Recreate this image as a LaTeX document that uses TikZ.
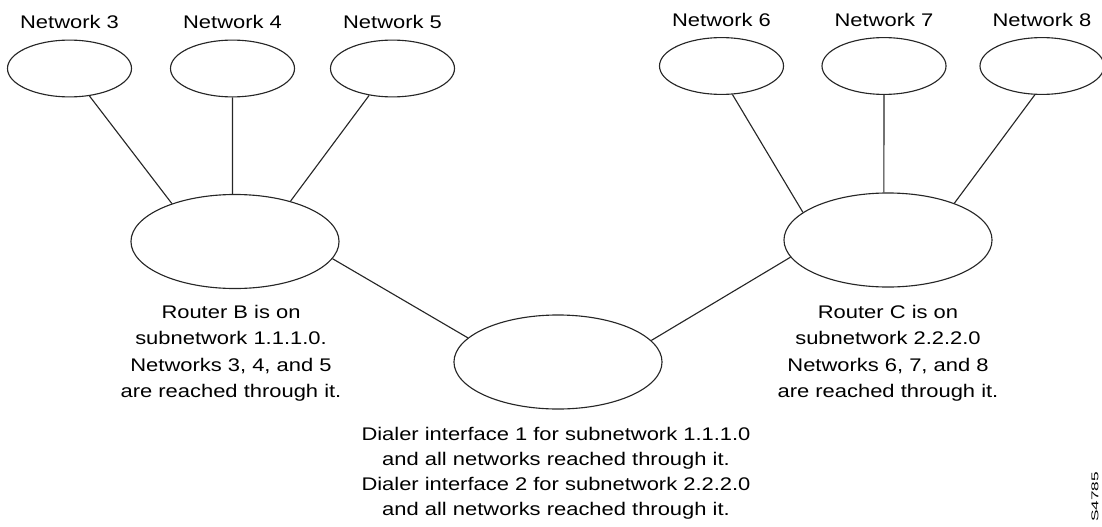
\documentclass[tikz,border=0pt]{standalone}
\usepackage{fontspec}
\setmainfont[FakeStretch=1.2]{Liberation Sans}
\newfontfamily\figidfont[FakeStretch=1.75]{Liberation Sans}
\usetikzlibrary{positioning,shapes.geometric}

\begin{document}
\begin{tikzpicture}[x=0.025cm, y=-0.025cm,
  net/.style={ellipse, draw=black!85, line width=0.8pt, minimum width=3.1cm, minimum height=1.42cm, inner sep=0pt},
  router/.style={ellipse, draw=black!85, line width=0.8pt, minimum width=5.2cm, minimum height=2.35cm, inner sep=0pt},
  netname/.style={inner sep=0pt, font=\fontsize{13}{15}\selectfont},
  note/.style={inner sep=0pt, anchor=north, align=center, font=\fontsize{13}{18.7}\selectfont},
  link/.style={draw=black!85, line width=0.8pt}]
\useasboundingbox (0,0) rectangle (1102,526);

% networks behind router B
\node [net] (net3) at (69.5,68.5) {};
\node [net] (net4) at (232.5,68.5) {};
\node [net] (net5) at (392.5,68.5) {};
\node [netname, above=7.8pt of net3] (name3) {Network 3};
\node [netname, above=7.8pt of net4] (name4) {Network 4};
\node [netname, above=7.8pt of net5] (name5) {Network 5};

% networks behind router C
\node [net] (net6) at (721.5,66) {};
\node [net] (net7) at (884,66) {};
\node [net] (net8) at (1042,66) {};
\node [netname, above=7.2pt of net6] (name6) {Network 6};
\node [netname, above=7.2pt of net7] (name7) {Network 7};
\node [netname, above=7.2pt of net8] (name8) {Network 8};

% routers and the dialer
\node [router] (routerB) at (235,241.5) {};
\node [router] (routerC) at (888,240) {};
\node [router] (dialer) at (558,362) {};

\node [note] (noteB) at (231,305) {Router B is on\\ subnetwork 1.1.1.0.\\ Networks 3, 4, and 5\\ are reached through it.};
\node [note] (noteC) at (888,305) {Router C is on\\ subnetwork 2.2.2.0\\ Networks 6, 7, and 8\\ are reached through it.};
\node [note, font=\fontsize{13}{17.8}\selectfont] (noteD) at (556,427) {Dialer interface 1 for subnetwork 1.1.1.0\\ and all networks reached through it.\\ Dialer interface 2 for subnetwork 2.2.2.0\\ and all networks reached through it.};

\node [inner sep=0pt, rotate=90, font=\figidfont\fontsize{7}{7}\selectfont] (figid) at (1095,497) {S4785};

\draw [link] (net3.-54) -- (routerB.149);
\draw [link] (net4.south) -- (routerB.93);
\draw [link] (net5.229) -- (routerB.36);
\draw [link] (routerB.-10) -- (dialer.165);
\draw [link] (dialer.13) -- (routerC.190);
\draw [link] (net6.-69) -- (routerC.162);
\draw [link] (net7.south) -- (routerC.95);
\draw [link] (net8.256) -- (routerC.29);

\end{tikzpicture}
\end{document}
